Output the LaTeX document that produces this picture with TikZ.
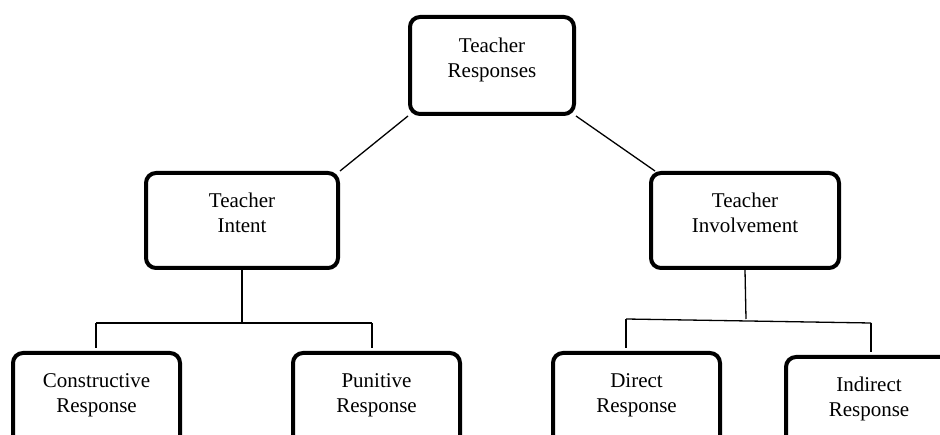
\documentclass[tikz,border=0pt]{standalone}
\usepackage{fontspec}
\setmainfont{Liberation Serif}
\newcommand{\twol}[2]{\raisebox{0pt}[\height][\dimexpr\depth+10pt\relax]{\begin{tabular}{@{}c@{}}#1\\#2\end{tabular}}}
\tikzset{
  box/.style={draw, line width=4pt, rounded corners=10pt, inner sep=0pt,
    font=\fontsize{21}{25}\selectfont},
  conn/.style={line width=1.3pt},
}
\begin{document}
\begin{tikzpicture}[x=1pt,y=-1pt]
\useasboundingbox (0,0) rectangle (940,435);
\clip (0,0) rectangle (940,435);
\fill[white] (0,0) rectangle (940,435);
% nodes
\node[box, minimum width=164pt, minimum height=97pt] (top) at (492,65.5) {\twol{Teacher}{Responses}};
\node[box, minimum width=192pt, minimum height=95pt] (intent) at (242,220.5) {\twol{Teacher}{Intent}};
\node[box, minimum width=188pt, minimum height=95pt] (inv) at (745,220.5) {\twol{Teacher}{Involvement}};
\node[box, minimum width=167pt, minimum height=95pt] (cons) at (96.5,400.5) {\twol{Constructive}{Response}};
\node[box, minimum width=167pt, minimum height=95pt] (pun) at (376.5,400.5) {\twol{Punitive}{Response}};
\node[box, minimum width=167pt, minimum height=95pt] (dir) at (636.5,400.5) {\twol{Direct}{Response}};
\node[box, minimum width=166pt, minimum height=95pt] (ind) at (869,404.5) {\twol{Indirect}{Response}};
% branch coordinates
\coordinate (lj) at (242,323);
\coordinate (ll) at (96,323);
\coordinate (lr) at (372,323);
\coordinate (lla) at (96,348);
\coordinate (lra) at (372,348);
\coordinate (rj) at (746,319);
\coordinate (rl) at (626,319);
\coordinate (rr) at (871,323);
\coordinate (rla) at (626,348);
\coordinate (rra) at (871,352);
% connectors
\draw[conn] (top.south west) -- (intent.north east);
\draw[conn] (top.south east) -- ([xshift=6pt]inv.north west);
\draw[conn] (intent.south) -- (lj);
\draw[conn] (ll) -- (lr);
\draw[conn] (ll) -- (lla);
\draw[conn] (lr) -- (lra);
\draw[conn] (inv.south) -- (rj);
\draw[conn] (rl) -- (rr);
\draw[conn] (rl) -- (rla);
\draw[conn] (rr) -- (rra);
\end{tikzpicture}
\end{document}
